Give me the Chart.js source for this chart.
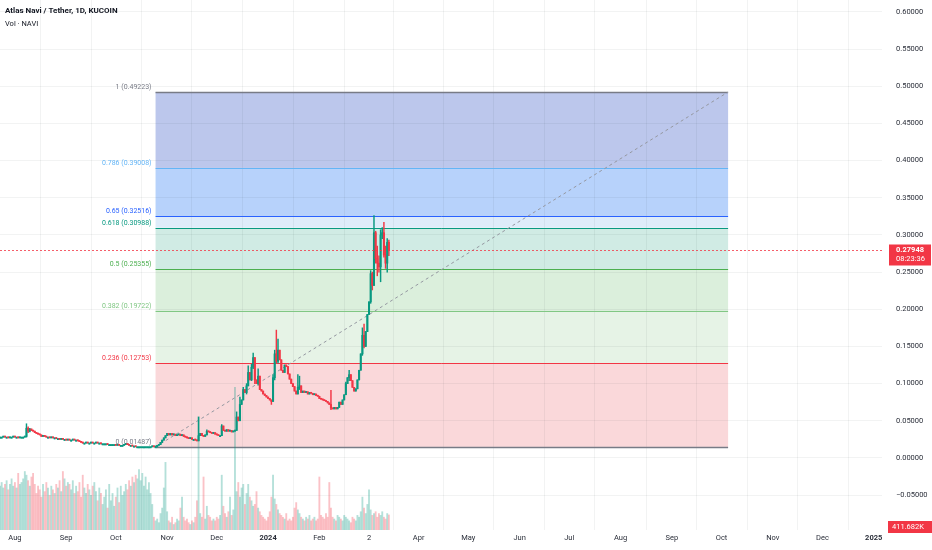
<!DOCTYPE html>
<html>
<head>
<meta charset="utf-8">
<script src="https://cdn.jsdelivr.net/npm/chart.js@4.4.1/dist/chart.umd.min.js"></script>
<style>
  html, body { margin: 0; padding: 0; background: #fff; }
  canvas { display: block; }
</style>
</head>
<body>
<canvas id="chart" width="932" height="550"></canvas>
<script>
// days are counted from 1 Jan 2024, first candle is 23 Jul 2023
const firstDay = -162;

const closes = [
  0.028,0.028,0.029,0.028,0.028,0.027,0.028,0.028,0.029,0.028,
  0.028,0.027,0.028,0.028,0.028,0.029,0.040,0.036,0.039,0.037,
  0.036,0.034,0.033,0.032,0.031,0.029,0.030,0.029,0.028,0.028,
  0.027,0.028,0.027,0.027,0.026,0.026,0.025,0.026,0.025,0.025,
  0.024,0.025,0.024,0.024,0.025,0.024,0.024,0.023,0.022,0.021,
  0.020,0.020,0.021,0.020,0.020,0.021,0.020,0.020,0.021,0.020,
  0.020,0.019,0.019,0.019,0.019,0.018,0.018,0.018,0.018,0.018,
  0.017,0.018,0.017,0.017,0.017,0.018,0.019,0.018,0.017,0.017,
  0.016,0.016,0.015,0.015,0.015,0.015,0.015,0.015,0.015,0.015,
  0.015,0.015,0.016,0.015,0.015,0.017,0.018,0.021,0.024,0.027,
  0.030,0.033,0.031,0.033,0.031,0.032,0.030,0.031,0.032,0.030,
  0.031,0.029,0.028,0.027,0.026,0.027,0.025,0.025,0.024,0.023,
  0.030,0.033,0.030,0.029,0.031,0.036,0.035,0.034,0.033,0.034,
  0.032,0.031,0.030,0.030,0.043,0.037,0.036,0.038,0.036,0.037,
  0.035,0.036,0.037,0.055,0.050,0.072,0.078,0.092,0.088,0.097,
  0.115,0.105,0.122,0.135,0.105,0.100,0.110,0.092,0.090,0.086,
  0.084,0.082,0.080,0.078,0.076,0.108,0.140,0.130,0.145,0.132,
  0.118,0.115,0.125,0.123,0.113,0.106,0.100,0.096,0.090,0.086,
  0.095,0.097,0.088,0.090,0.088,0.089,0.086,0.088,0.087,0.085,
  0.086,0.084,0.083,0.080,0.079,0.078,0.077,0.076,0.074,0.072,
  0.067,0.066,0.068,0.066,0.068,0.075,0.072,0.078,0.085,0.100,
  0.108,0.112,0.104,0.095,0.090,0.093,0.105,0.118,0.140,0.165,
  0.150,0.170,0.193,0.210,0.248,0.232,0.303,0.268,0.262,0.257,
  0.300,0.303,0.273,0.262,0.290,0.27948
];

// visible wicks, day: [high, low]
const wicks = {
  '-146': [0.046, 0.028], '-145': [0.042, 0.034], '-144': [0.040, 0.035],
  '-68': [0.016, 0.01487], '-42': [0.055, 0.023], '-37': [0.038, 0.031],
  '-28': [0.045, 0.030], '-19': [0.062, 0.037], '-17': [0.082, 0.050],
  '-15': [0.095, 0.078], '-13': [0.100, 0.086], '-12': [0.124, 0.097],
  '-10': [0.126, 0.104], '-9': [0.141, 0.120], '-8': [0.135, 0.100],
  '-6': [0.120, 0.098], '2': [0.078, 0.072], '3': [0.112, 0.076],
  '4': [0.145, 0.105], '5': [0.172, 0.128], '6': [0.160, 0.128],
  '18': [0.112, 0.086], '19': [0.110, 0.092], '38': [0.091, 0.065],
  '47': [0.102, 0.085], '49': [0.118, 0.104], '57': [0.175, 0.138],
  '58': [0.180, 0.148], '62': [0.252, 0.208], '63': [0.250, 0.226],
  '64': [0.326, 0.232], '65': [0.305, 0.262], '66': [0.285, 0.245],
  '67': [0.272, 0.250], '68': [0.307, 0.237], '69': [0.310, 0.295],
  '70': [0.317, 0.270], '71': [0.285, 0.255], '72': [0.295, 0.250],
  '73': [0.293, 0.272]
};

// volume in thousands
const volumes = [
  1200,1300,1150,1250,1350,1100,1250,1400,1200,1300,
  1150,1550,1250,1300,1400,1600,1500,1350,1200,1450,
  1550,1250,1000,1200,1100,900,1250,1050,1300,1150,
  950,1200,1100,1000,1250,1150,1350,1050,1600,1400,
  1200,1300,1250,1100,1350,1000,1200,1050,1300,900,
  1500,1150,1000,1250,1100,950,1200,1300,1050,800,
  1150,1000,700,900,1100,600,1250,800,1000,650,
  900,1150,750,1200,950,1050,1250,1100,1350,1200,
  1450,1300,1500,1400,1650,1350,1550,1200,1450,1100,
  1300,1000,700,350,250,300,200,450,600,1150,
  1850,500,250,200,350,150,200,300,250,600,
  900,350,250,300,200,150,250,200,350,800,
  3100,450,350,1450,300,650,400,350,250,300,
  250,350,300,400,1500,650,450,350,500,900,
  400,550,3900,1050,1300,900,1150,1250,700,1000,
  1250,900,800,650,700,1050,600,500,400,350,
  300,250,350,500,900,1500,850,700,550,450,
  400,350,300,450,250,300,250,350,600,750,
  550,450,350,300,250,350,300,400,250,300,
  350,250,300,1450,400,350,300,450,350,1300,
  600,350,300,250,400,350,300,250,400,350,
  300,250,200,350,300,250,400,350,500,900,
  600,450,700,1100,550,400,450,500,350,450,
  400,500,350,300,450,411.682
];

const fibLevels = [0, 0.236, 0.382, 0.5, 0.618, 0.65, 0.786, 1];
const fibPrices = [0.01487, 0.12753, 0.19722, 0.25355, 0.30988, 0.32516, 0.39008, 0.49223];
const fibStart = -68;
const fibEnd = 278;

const monthDays = [-153, -122, -92, -61, -31, 0, 31, 61, 91, 121, 152, 182, 213, 244, 274, 305, 335, 366];
const monthLabels = ['Aug', 'Sep', 'Oct', 'Nov', 'Dec', '2024', 'Feb', '2', 'Apr', 'May', 'Jun', 'Jul', 'Aug', 'Sep', 'Oct', 'Nov', 'Dec', '2025'];
const priceTicks = [-0.05, 0, 0.05, 0.1, 0.15, 0.2, 0.25, 0.3, 0.35, 0.4, 0.45, 0.5, 0.55, 0.6];

const lastPrice = 0.27948;
const countdown = '08:23:36';
const lastVolume = '411.682K';

// styles
const UP = '#089981', DOWN = '#f23645';
const fibLineColors = ['#787b86', '#f23645', '#81c784', '#4caf50', '#089981', '#2962ff', '#64b5f6', '#787b86'];
const fibZoneColors = ['rgb(250,216,218)', 'rgb(230,243,230)', 'rgb(219,239,220)', 'rgb(208,235,228)',
                       'rgb(222,236,250)', 'rgb(183,210,251)', 'rgb(188,199,236)'];

Chart.defaults.font.family = 'Roboto, "Liberation Sans", sans-serif';

let bodies = [], shadows = [], candleColors = [], vols = [], volColors = [];
closes.forEach((c, i) => {
  const d = firstDay + i;
  const o = i === 0 ? c : closes[i - 1];
  const w = wicks[d];
  const up = c >= o;
  bodies.push({x: d, y: [o, c]});
  shadows.push({x: d, y: w ? [w[1], w[0]] : [Math.min(o, c), Math.max(o, c)]});
  candleColors.push(up ? UP : DOWN);
  vols.push({x: d, y: volumes[i]});
  volColors.push(up ? 'rgba(8,153,129,0.3)' : 'rgba(242,54,69,0.3)');
});

const fibPlugin = {
  id: 'fib',
  beforeDraw(chart) {
    const ctx = chart.ctx, x = chart.scales.x, y = chart.scales.y;
    const x1 = x.getPixelForValue(fibStart), x2 = x.getPixelForValue(fibEnd);
    ctx.save();
    for (let i = 1; i < fibPrices.length; i++) {
      const ya = y.getPixelForValue(fibPrices[i]), yb = y.getPixelForValue(fibPrices[i - 1]);
      ctx.fillStyle = fibZoneColors[i - 1];
      ctx.fillRect(x1, ya, x2 - x1, yb - ya);
    }
    ctx.restore();
  },
  beforeDatasetsDraw(chart) {
    const ctx = chart.ctx, x = chart.scales.x, y = chart.scales.y;
    const x1 = x.getPixelForValue(fibStart), x2 = x.getPixelForValue(fibEnd);
    ctx.save();
    ctx.font = '7px Roboto, "Liberation Sans", sans-serif';
    ctx.textAlign = 'right';
    ctx.textBaseline = 'bottom';
    fibLevels.forEach((lv, i) => {
      const py = Math.round(y.getPixelForValue(fibPrices[i])) + 0.5;
      ctx.strokeStyle = fibLineColors[i];
      ctx.lineWidth = (i === 0 || i === fibLevels.length - 1) ? 1.5 : 1;
      ctx.beginPath();
      ctx.moveTo(x1, py);
      ctx.lineTo(x2, py);
      ctx.stroke();
      ctx.fillStyle = fibLineColors[i];
      ctx.fillText(lv + ' (' + fibPrices[i].toFixed(5) + ')', x1 - 4, py - 2);
    });
    ctx.restore();
  },
  afterDraw(chart) {
    const ctx = chart.ctx, y = chart.scales.y, area = chart.chartArea;
    const py = Math.round(y.getPixelForValue(lastPrice)) + 0.5;
    ctx.save();
    // last price line
    ctx.strokeStyle = 'rgba(242,54,69,0.8)';
    ctx.lineWidth = 1;
    ctx.setLineDash([2, 2]);
    ctx.beginPath();
    ctx.moveTo(area.left, py);
    ctx.lineTo(area.right, py);
    ctx.stroke();
    ctx.setLineDash([]);
    // price tag
    ctx.fillStyle = DOWN;
    ctx.fillRect(area.right + 7, py - 6, 42, 21);
    ctx.fillStyle = '#fff';
    ctx.textAlign = 'left';
    ctx.textBaseline = 'middle';
    ctx.font = 'bold 7.5px Roboto, sans-serif';
    ctx.fillText(lastPrice.toFixed(5), area.right + 14, py);
    ctx.font = '7.5px Roboto, sans-serif';
    ctx.fillText(countdown, area.right + 14, py + 9);
    // volume tag
    ctx.fillStyle = DOWN;
    ctx.fillRect(area.right + 6, 521, 44, 12);
    ctx.fillStyle = '#fff';
    ctx.fillText(lastVolume, area.right + 10, 527);
    // titles
    ctx.fillStyle = '#131722';
    ctx.font = 'bold 8px Roboto, sans-serif';
    ctx.fillText('Atlas Navi / Tether, 1D, KUCOIN', 5, 11);
    ctx.font = '7.5px Roboto, sans-serif';
    ctx.fillText('Vol · NAVI', 5, 24);
    ctx.restore();
  }
};

new Chart(document.getElementById('chart'), {
  type: 'bar',
  data: {
    datasets: [
      {
        data: bodies, backgroundColor: candleColors, barThickness: 1.4, minBarLength: 1,
        grouped: false, yAxisID: 'y', order: 0
      },
      {
        data: shadows, backgroundColor: candleColors, barThickness: 0.8, minBarLength: 1,
        grouped: false, yAxisID: 'y', order: 1
      },
      {
        type: 'line',
        data: [{x: fibStart, y: fibPrices[0]}, {x: fibEnd, y: fibPrices[fibPrices.length - 1]}],
        borderColor: '#9598a1', borderWidth: 1, borderDash: [3, 3], pointRadius: 0,
        yAxisID: 'y', order: 2
      },
      {
        data: vols, backgroundColor: volColors, barThickness: 1.2,
        grouped: false, yAxisID: 'yv', order: 3
      }
    ]
  },
  options: {
    responsive: false,
    animation: false,
    layout: { padding: 0 },
    plugins: { legend: { display: false }, tooltip: { enabled: false } },
    scales: {
      x: {
        type: 'linear', min: -162, max: 371, offset: false,
        grid: { color: 'rgba(42,46,57,0.06)', drawTicks: false },
        border: { display: false },
        afterBuildTicks: s => { s.ticks = monthDays.map(v => ({value: v})); },
        afterFit: s => { s.height = 20; s.paddingLeft = 0; s.paddingRight = 0; },
        ticks: {
          autoSkip: false, maxRotation: 0, padding: 4, color: '#2a2e39',
          font: ctx => ({ size: 7.5, weight: /^\d{4}$/.test(monthLabels[ctx.index]) ? 'bold' : 'normal' }),
          callback: (v, i) => monthLabels[i]
        }
      },
      y: {
        position: 'right', min: -0.0969, max: 0.616,
        grid: { color: 'rgba(42,46,57,0.06)', drawTicks: true, tickLength: 14, tickColor: 'rgba(0,0,0,0)' },
        border: { display: false },
        afterBuildTicks: s => { s.ticks = priceTicks.map(v => ({value: v})); },
        afterFit: s => { s.width = 50; s.paddingTop = 0; s.paddingBottom = 0; },
        ticks: {
          padding: 0, color: '#2a2e39', font: { size: 7.5 },
          callback: v => (v < 0 ? '\u2212' + Math.abs(v).toFixed(5) : v.toFixed(5))
        }
      },
      yv: { display: false, min: 0, max: 14500 }
    }
  },
  plugins: [fibPlugin]
});
</script>
</body>
</html>
